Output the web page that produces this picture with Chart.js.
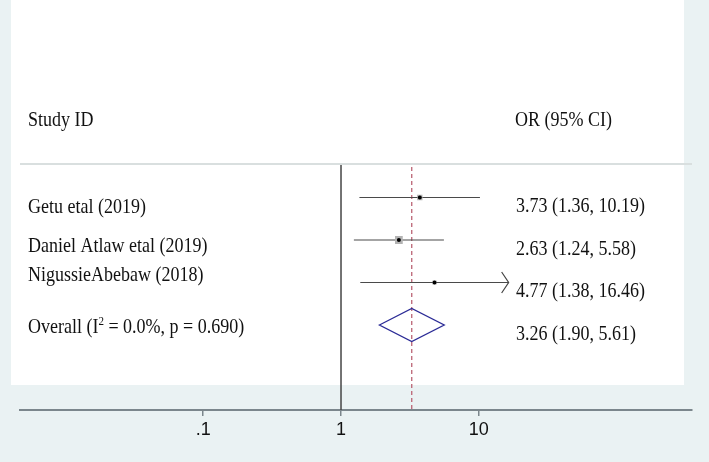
<!DOCTYPE html>
<html>
<head>
<meta charset="utf-8">
<script src="https://cdn.jsdelivr.net/npm/chart.js@4.4.0/dist/chart.umd.min.js"></script>
<style>
  html, body { margin: 0; padding: 0; background: #eaf2f3; }
  canvas { display: block; }
</style>
</head>
<body>
<canvas id="forestChart" width="709" height="462"></canvas>
<script>
// Study level odds ratios with 95% CI
const studies = ['Getu etal (2019)', 'Daniel Atlaw etal (2019)', 'NigussieAbebaw (2018)'];
const orValues = [3.73, 2.63, 4.77];
const ciLower = [1.36, 1.24, 1.38];
const ciUpper = [10.19, 5.58, 16.46];
const weights = [29, 52, 19];          // % weight, sets the grey box size
const ciArrow = [false, false, true];  // CI runs past the plotted range

// Pooled estimate
const overallOR = 3.26;
const overallLower = 1.90;
const overallUpper = 5.61;
const overallI2 = '0.0%';
const overallP = '0.690';

const headers = ['Study ID', 'OR (95% CI)'];
const xTicks = [0.1, 1, 10];

// row numbers: studies 1..n, overall row after them
const studyRows = studies.map((s, i) => i + 1);
const overallRow = studies.length + 1;

function fmt(v) { return v.toFixed(2); }

// draw serif text a little taller than wide, like the original export
function tallText(ctx, str, x, y) {
  ctx.save();
  ctx.translate(x, y);
  ctx.scale(1, 1.18);
  ctx.fillText(str, 0, 0);
  ctx.restore();
}

const forestPlugin = {
  id: 'forest',
  beforeDraw(chart) {
    const ctx = chart.ctx;
    ctx.save();
    ctx.fillStyle = '#eaf2f3';
    ctx.fillRect(0, 0, chart.width, chart.height);
    ctx.fillStyle = '#ffffff';
    ctx.fillRect(11, 0, 673, 385);
    // header rule
    ctx.strokeStyle = '#d9dfdf';
    ctx.lineWidth = 2;
    ctx.beginPath();
    ctx.moveTo(chart.chartArea.left, 164);
    ctx.lineTo(chart.chartArea.right, 164);
    ctx.stroke();
    ctx.restore();
  },
  beforeDatasetsDraw(chart) {
    const ctx = chart.ctx;
    const x = chart.scales.x;
    const bottom = chart.chartArea.bottom;
    ctx.save();
    // null line at OR = 1
    ctx.strokeStyle = '#454545';
    ctx.lineWidth = 1.5;
    ctx.beginPath();
    ctx.moveTo(x.getPixelForValue(1), 165);
    ctx.lineTo(x.getPixelForValue(1), bottom);
    ctx.stroke();
    // pooled estimate line
    ctx.strokeStyle = '#bb6475';
    ctx.lineWidth = 1.3;
    ctx.setLineDash([4, 3]);
    ctx.beginPath();
    ctx.moveTo(x.getPixelForValue(overallOR), 167);
    ctx.lineTo(x.getPixelForValue(overallOR), bottom);
    ctx.stroke();
    ctx.restore();
  },
  afterDatasetsDraw(chart) {
    const ctx = chart.ctx;
    const x = chart.scales.x, y = chart.scales.y;
    ctx.save();
    // arrows for clipped intervals
    ctx.strokeStyle = '#444';
    ctx.lineWidth = 1.2;
    studies.forEach((s, i) => {
      if (!ciArrow[i]) return;
      const tx = x.getPixelForValue(ciUpper[i]);
      const ty = y.getPixelForValue(studyRows[i]);
      ctx.beginPath();
      ctx.moveTo(tx - 7, ty - 10.5);
      ctx.lineTo(tx, ty);
      ctx.lineTo(tx - 7, ty + 10.5);
      ctx.stroke();
    });
    // pooled diamond
    const cy = y.getPixelForValue(overallRow);
    const xl = x.getPixelForValue(overallLower);
    const xc = x.getPixelForValue(overallOR);
    const xr = x.getPixelForValue(overallUpper);
    ctx.strokeStyle = '#2b2b96';
    ctx.lineWidth = 1.3;
    ctx.beginPath();
    ctx.moveTo(xl, cy);
    ctx.lineTo(xc, cy - 16.5);
    ctx.lineTo(xr, cy);
    ctx.lineTo(xc, cy + 16.5);
    ctx.closePath();
    ctx.stroke();
    ctx.restore();
  },
  afterDraw(chart) {
    const ctx = chart.ctx;
    const y = chart.scales.y;
    const labelDy = [15, 12, -1.5, 8];
    ctx.save();
    ctx.fillStyle = '#111';
    ctx.textBaseline = 'alphabetic';
    ctx.textAlign = 'left';
    ctx.font = '18px "Liberation Serif", "Times New Roman", serif';
    tallText(ctx, headers[0], 28, 126);
    tallText(ctx, headers[1], 515, 126);
    studies.forEach((s, i) => {
      const py = y.getPixelForValue(studyRows[i]);
      tallText(ctx, s, 28, py + labelDy[i]);
      tallText(ctx, fmt(orValues[i]) + ' (' + fmt(ciLower[i]) + ', ' + fmt(ciUpper[i]) + ')', 516, py + 14.5);
    });
    // overall row with superscript
    const oy = y.getPixelForValue(overallRow);
    const ly = oy + labelDy[3];
    let part = 'Overall (I';
    tallText(ctx, part, 28, ly);
    let px = 28 + ctx.measureText(part).width;
    ctx.font = '11px "Liberation Serif", serif';
    tallText(ctx, '2', px, ly - 8);
    px += ctx.measureText('2').width;
    ctx.font = '18px "Liberation Serif", "Times New Roman", serif';
    tallText(ctx, ' = ' + overallI2 + ', p = ' + overallP + ')', px, ly);
    tallText(ctx, fmt(overallOR) + ' (' + fmt(overallLower) + ', ' + fmt(overallUpper) + ')', 516, oy + 14.5);
    ctx.restore();
  }
};

const ciDatasets = studies.map((s, i) => ({
  label: s,
  data: [{ x: ciLower[i], y: studyRows[i] }, { x: ciUpper[i], y: studyRows[i] }],
  showLine: true,
  borderColor: '#4a4a4a',
  borderWidth: 1.2,
  pointRadius: 0,
  order: 2
}));

const ctx = document.getElementById('forestChart').getContext('2d');
const forestChart = new Chart(ctx, {
  type: 'scatter',
  data: {
    datasets: [
      {
        label: 'estimate',
        data: studies.map((s, i) => ({ x: orValues[i], y: studyRows[i] })),
        pointStyle: 'circle',
        pointRadius: 2,
        backgroundColor: '#000',
        borderWidth: 0,
        order: 0
      },
      {
        label: 'weight',
        data: studies.map((s, i) => ({ x: orValues[i], y: studyRows[i] })),
        pointStyle: 'rect',
        // box side grows with weight; rect side = radius * sqrt(2)
        pointRadius: weights.map(w => 0.62 * Math.pow(w, 0.64) / 1.414),
        backgroundColor: '#b3b3b3',
        borderWidth: 0,
        order: 1
      },
      ...ciDatasets
    ]
  },
  options: {
    responsive: false,
    animation: false,
    layout: { padding: { top: 27.5, left: 20, right: 17, bottom: 0 } },
    plugins: { legend: { display: false }, tooltip: { enabled: false } },
    scales: {
      x: {
        type: 'logarithmic',
        min: 0.004683,
        max: 352.4,
        afterBuildTicks: (scale) => { scale.ticks = xTicks.map(v => ({ value: v })); },
        afterFit: (scale) => { scale.height = 52; },
        ticks: {
          autoSkip: false,
          maxRotation: 0,
          padding: 3,
          color: '#111',
          font: { family: '"Liberation Sans", Arial, sans-serif', size: 18 },
          callback: (v) => (v === 0.1 ? '.1' : String(v))
        },
        grid: { drawOnChartArea: false, drawTicks: true, tickLength: 6, color: '#7b868c', lineWidth: 1.5 },
        border: { display: true, color: '#7b868c', width: 2 }
      },
      y: {
        type: 'linear',
        min: -3,
        max: 6,
        reverse: true,
        display: false
      }
    }
  },
  plugins: [forestPlugin]
});
</script>
</body>
</html>
